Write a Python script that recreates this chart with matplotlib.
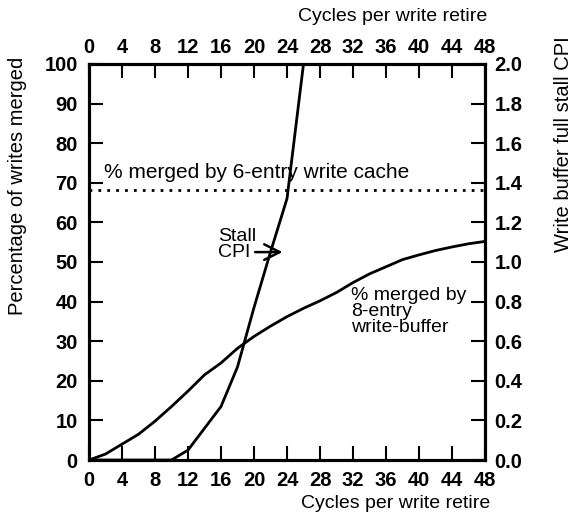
import matplotlib
matplotlib.use("Agg")
import matplotlib.pyplot as plt

# ==========================
# Data
# ==========================
cycles_merged = [0, 2, 4, 6, 8, 10, 12, 14, 16, 18, 20, 22, 24, 26, 28, 30, 32, 34, 36, 38, 40, 42, 44, 46, 48]
pct_merged_8entry = [0, 1.5, 4, 6.5, 9.8, 13.5, 17.4, 21.5, 24.5, 28.2, 31.2, 33.8, 36.2, 38.3, 40.2, 42.3, 44.8, 47.0, 48.8, 50.6, 51.8, 52.9, 53.8, 54.6, 55.2]

cycles_stall = [0, 10, 12, 14, 16, 18, 20, 22, 24, 26]
stall_cpi = [0, 0, 0.05, 0.16, 0.27, 0.47, 0.77, 1.05, 1.32, 2.0]

pct_6entry_cache = 68.3

x_ticks = list(range(0, 49, 4))
left_ticks = list(range(0, 101, 10))
right_ticks = [0.0, 0.2, 0.4, 0.6, 0.8, 1.0, 1.2, 1.4, 1.6, 1.8, 2.0]

plt.rcParams["font.family"] = ["Liberation Sans", "DejaVu Sans"]

fig = plt.figure(figsize=(5.77, 5.16), dpi=100)
ax = fig.add_axes([0.1542, 0.1085, 0.6864, 0.7675])

lw_axis = 2.2
lw_line = 2.0
tick_font = dict(fontsize=14.5, fontweight="bold")
txt_size = 14

# % merged curve (left axis)
ax.plot(cycles_merged, pct_merged_8entry, color="black", lw=lw_line, solid_capstyle="butt")
ax.axhline(pct_6entry_cache, color="black", lw=2.0, linestyle=(0, (1, 2.2)))

ax.set_xlim(0, 48)
ax.set_ylim(0, 100)
ax.set_xticks(x_ticks)
ax.set_xticklabels([str(t) for t in x_ticks], **tick_font)
ax.set_yticks(left_ticks)
ax.set_yticklabels([str(t) for t in left_ticks], **tick_font)
ax.tick_params(axis="x", direction="in", length=10, width=1.5, pad=8)
ax.tick_params(axis="y", direction="in", length=10, width=1.5, pad=8)
for sp in ax.spines.values():
    sp.set_linewidth(lw_axis)

# Stall CPI curve (right axis)
ax2 = ax.twinx()
ax2.plot(cycles_stall, stall_cpi, color="black", lw=lw_line)
ax2.set_ylim(0, 2.0)
ax2.set_yticks(right_ticks)
ax2.set_yticklabels([f"{t:.1f}" for t in right_ticks], **tick_font)
ax2.tick_params(direction="in", length=10, width=1.5, pad=7)

# Top x axis
ax3 = ax.twiny()
ax3.set_xlim(0, 48)
ax3.set_xticks(x_ticks)
ax3.set_xticklabels([str(t) for t in x_ticks], **tick_font)
ax3.tick_params(direction="in", length=10, width=1.5, pad=5)
for a in (ax2, ax3):
    for sp in a.spines.values():
        sp.set_linewidth(lw_axis)

# Labels
fig.text(0.685, 0.025, "Cycles per write retire", fontsize=14, ha="center", va="center")
fig.text(0.68, 0.968, "Cycles per write retire", fontsize=14, ha="center", va="center")
fig.text(0.03, 0.64, "Percentage of writes merged", fontsize=14.5, rotation=90, ha="center", va="center")
fig.text(0.976, 0.72, "Write buffer full stall CPI", fontsize=14.5, rotation=90, ha="center", va="center")

# Annotations
ax.text(1.8, 70.3, "% merged by 6-entry write cache", fontsize=15, ha="left", va="bottom")
ax.text(15.6, 54.5, "Stall\nCPI", fontsize=txt_size, ha="left", va="center", linespacing=0.95)
ax.annotate("", xy=(23.8, 52.5), xytext=(19.8, 52.5),
            arrowprops=dict(arrowstyle="->", lw=1.8, color="black", mutation_scale=28))
ax.text(31.8, 43.8, "% merged by\n8-entry\nwrite-buffer", fontsize=txt_size, ha="left", va="top", linespacing=0.95)

fig.savefig("out.png", dpi=100)
